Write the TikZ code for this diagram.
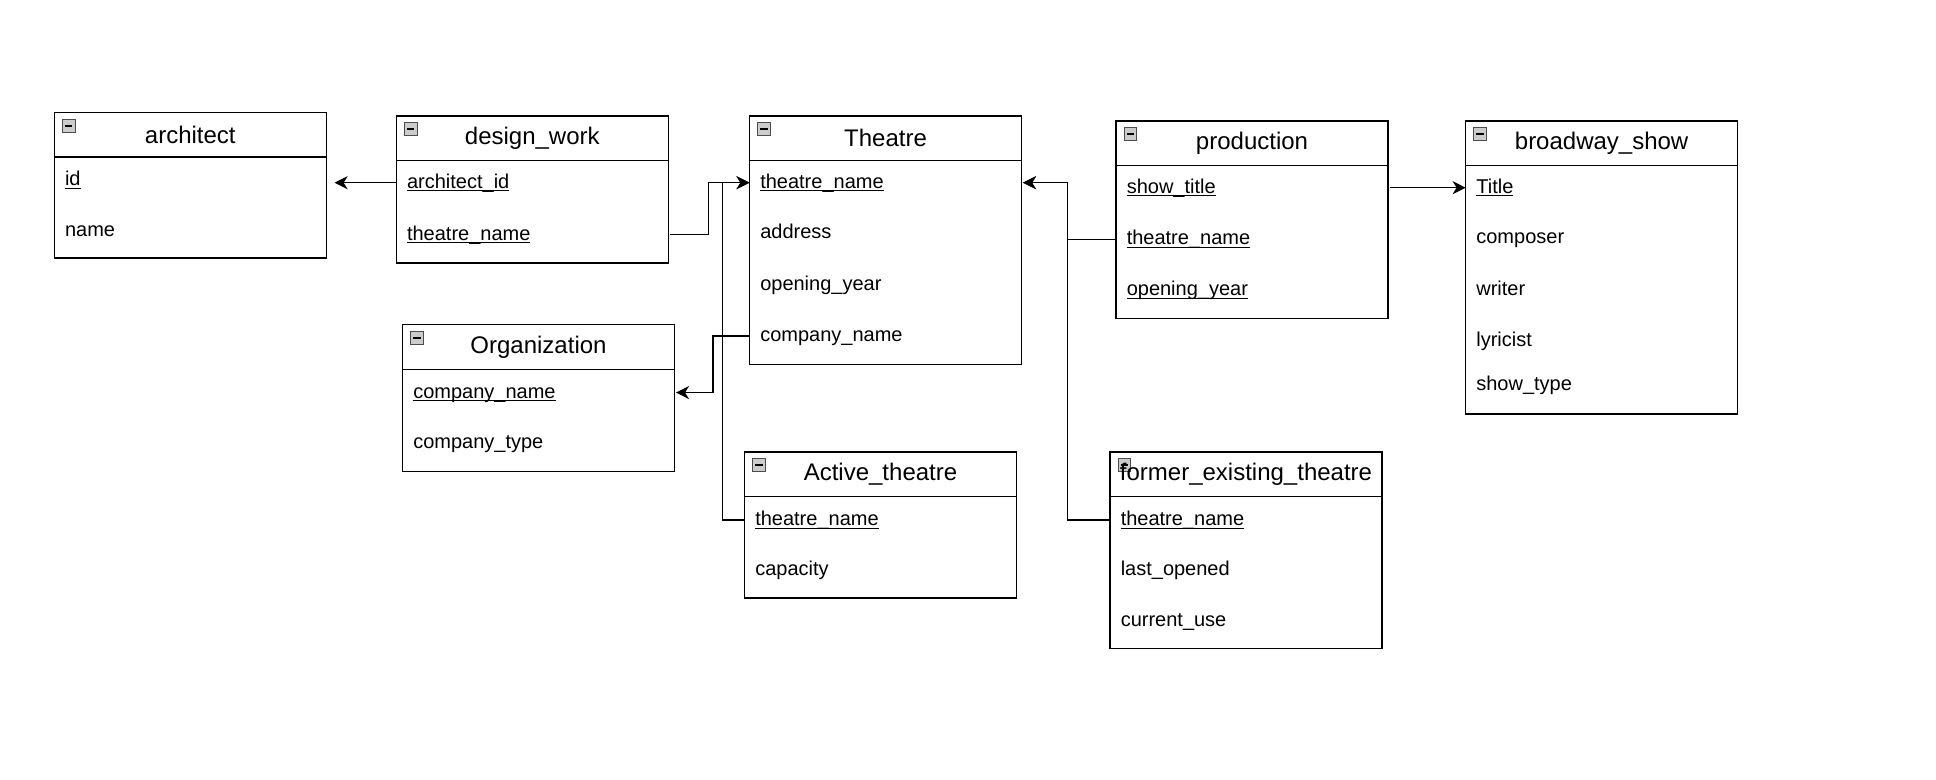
\documentclass[tikz,border=0pt]{standalone}
\usepackage{fontspec}
\setmainfont{Liberation Sans}
\usepackage{tikz}
\usetikzlibrary{positioning,arrows.meta}
\newcommand{\pk}[1]{\setbox0\hbox{#1}\rlap{\rule[-1.6pt]{\wd0}{0.5pt}}\box0}
\tikzset{tbl/.style={draw,line width=0.75pt,minimum width=136pt,inner sep=0pt,outer sep=0pt,anchor=north west}}
\tikzset{hd/.style={tbl,minimum height=22.3pt,font=\fontsize{12}{14}\selectfont,
    path picture={
      \draw[fill=gray!40,draw=gray!60!black,line width=0.4pt] ([xshift=4pt,yshift=-3.4pt]path picture bounding box.north west) rectangle ++(6.4pt,-6.4pt);
      \draw[line width=1pt] ([xshift=5.4pt,yshift=-6.6pt]path picture bounding box.north west) -- ++(3.6pt,0);
    }}}
\tikzset{fld/.style={anchor=west,text width=126pt,inner xsep=5pt,inner ysep=0pt,align=left,text height=7.5pt,text depth=2pt,font=\fontsize{10}{12}\selectfont}}

\begin{document}
\begin{tikzpicture}[x=0.5pt,y=-0.5pt,>={Stealth[length=6.5pt,width=6.5pt,inset=2pt]},line width=0.75pt]
        \useasboundingbox (0,0) rectangle (1936,780);

        % architect
        \node[hd] (architect) at (54.3,112.4) {architect};
        \node[tbl,minimum height=50.6pt] (architect-box) at (architect.south west) {};
        \node[fld] (architect-id) at (54.3,180.3) {\pk{id}};
        \node[fld] (architect-name) at (54.3,230.9) {name};

        % design_work
        \node[hd] (design) at (396.3,116) {design\_work};
        \node[tbl,minimum height=51.2pt] (design-box) at (design.south west) {};
        \node[fld] (design-arch) at (396.3,182.7) {\pk{architect\_id}};
        \node[fld] (design-theatre) at (396.3,234.6) {\pk{theatre\_name}};

        % Theatre
        \node[hd] (theatre) at (749.5,116) {Theatre};
        \node[tbl,minimum height=101.9pt] (theatre-box) at (theatre.south west) {};
        \node[fld] (theatre-name) at (749.5,182.7) {\pk{theatre\_name}};
        \node[fld] (theatre-addr) at (749.5,233.4) {address};
        \node[fld] (theatre-year) at (749.5,285.2) {opening\_year};
        \node[fld] (theatre-company) at (749.5,335.8) {company\_name};

        % production
        \node[hd] (prod) at (1116,121) {production};
        \node[tbl,minimum height=76.5pt] (prod-box) at (prod.south west) {};
        \node[fld] (prod-title) at (1116,187.7) {\pk{show\_title}};
        \node[fld] (prod-theatre) at (1116,239.5) {\pk{theatre\_name}};
        \node[fld] (prod-year) at (1116,290.2) {\pk{opening\_year}};

        % broadway_show
        \node[hd] (show) at (1465.6,121) {broadway\_show};
        \node[tbl,minimum height=124.1pt] (show-box) at (show.south west) {};
        \node[fld] (show-title) at (1465.6,187.7) {\pk{Title}};
        \node[fld] (show-composer) at (1465.6,238.3) {composer};
        \node[fld] (show-writer) at (1465.6,290.2) {writer};
        \node[fld] (show-lyricist) at (1465.6,340.8) {lyricist};
        \node[fld] (show-type) at (1465.6,385.2) {show\_type};

        % Organization
        \node[hd] (org) at (402.5,324.7) {Organization};
        \node[tbl,minimum height=51.2pt] (org-box) at (org.south west) {};
        \node[fld] (org-name) at (402.5,392.6) {\pk{company\_name}};
        \node[fld] (org-type) at (402.5,443.3) {company\_type};

        % Active_theatre
        \node[hd] (active) at (744.5,451.9) {Active\_theatre};
        \node[tbl,minimum height=50.7pt] (active-box) at (active.south west) {};
        \node[fld] (active-name) at (744.5,519.8) {\pk{theatre\_name}};
        \node[fld] (active-cap) at (744.5,570.4) {capacity};

        % former_existing_theatre
        \node[hd] (former) at (1110,451.9) {former\_existing\_theatre};
        \node[tbl,minimum height=76pt] (former-box) at (former.south west) {};
        \node[fld] (former-name) at (1110,519.8) {\pk{theatre\_name}};
        \node[fld] (former-last) at (1110,570.4) {last\_opened};
        \node[fld] (former-use) at (1110,621) {current\_use};

        \coordinate (archgap) at (334.6,182.7);

        \draw [->] (design-arch.west) -- (archgap);
        \draw [->] (design-theatre.east) -| ([xshift=-20.4pt]theatre-name.west) -- (theatre-name.west);
        \draw [->] (active-name.west) -| ([xshift=-13.6pt]theatre-name.west) -- (theatre-name.west);
        \draw [->] (theatre-company.west) -| ([xshift=18.5pt]org-name.east) -- (org-name.east);
        \draw [->] (prod-theatre.west) -| ([xshift=22.3pt]theatre-name.east) -- (theatre-name.east);
        \draw [->] (former-name.west) -| ([xshift=22.3pt]theatre-name.east) -- (theatre-name.east);
        \draw [->] (prod-title.east) -- (show-title.west);
    \end{tikzpicture}
\end{document}
